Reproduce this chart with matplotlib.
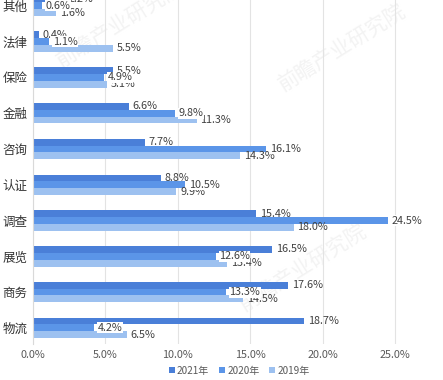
import matplotlib
matplotlib.use("Agg")
import matplotlib.pyplot as plt
from matplotlib.patches import Patch
import numpy as np

plt.rcParams['font.family'] = ['Noto Sans CJK SC', 'DejaVu Sans']

categories = ['物流', '商务', '展览', '调查', '认证', '咨询', '金融', '保险', '法律', '其他']
v2021 = [18.7, 17.6, 16.5, 15.4, 8.8, 7.7, 6.6, 5.5, 0.4, 2.2]
v2020 = [4.2, 13.3, 12.6, 24.5, 10.5, 16.1, 9.8, 4.9, 1.1, 0.6]
v2019 = [6.5, 14.5, 13.4, 18.0, 9.9, 14.3, 11.3, 5.1, 5.5, 1.6]
series_names = ['2021年', '2020年', '2019年']
xticks = [0, 5, 10, 15, 20, 25]

colors = ['#4a7fd8', '#5b95e8', '#9dc1f0']

fig = plt.figure(figsize=(4.43, 3.80), dpi=100)
ax = fig.add_axes([33/443, 1 - 344/380, 397/443, 344/380])

# faint watermarks
for (wx, wy) in [(0.78, 0.86), (0.68, 0.22), (0.22, 0.93)]:
    ax.text(wx, wy, '前瞻产业研究院', transform=ax.transAxes, rotation=32,
            fontsize=15, color='#f3f3f3', ha='center', va='center', zorder=0)

y = np.arange(len(categories))
h = 0.19
series = [v2021, v2020, v2019]
offsets = [h, 0, -h]
for vals, off, c, name in zip(series, offsets, colors, series_names):
    ax.barh(y + off, vals, height=h, color=c, zorder=2, label=name)

fs = 7.8
for i in range(len(categories)):
    ax.text(v2021[i] + 0.25, y[i] + h, f'{v2021[i]:.1f}%', va='center', ha='left',
            fontsize=fs, color='#404040', zorder=4)
    ax.text(v2020[i] + 0.25, y[i], f'{v2020[i]:.1f}%', va='center', ha='left',
            fontsize=fs, color='#404040', zorder=5,
            bbox=dict(facecolor='white', edgecolor='none', pad=0.3))
    ax.text(v2019[i] + 0.25, y[i] - h, f'{v2019[i]:.1f}%', va='center', ha='left',
            fontsize=fs, color='#404040', zorder=4)

ax.set_xlim(0, 27.4)
ax.set_ylim(-0.45, 9.16)
ax.set_xticks(xticks)
ax.set_xticklabels([f'{t:.1f}%' for t in xticks], fontsize=7.8, color='#595959')
ax.set_yticks(y)
ax.set_yticklabels(categories, fontsize=9, color='#333333')
ax.tick_params(axis='both', length=0, pad=4)
ax.grid(axis='x', color='#e3e3e3', linewidth=0.8, zorder=1)
ax.set_axisbelow(True)
for s in ['top', 'right', 'bottom']:
    ax.spines[s].set_visible(False)
ax.spines['left'].set_color('#d9d9d9')
ax.spines['left'].set_linewidth(0.8)

handles = [Patch(facecolor=c, edgecolor='none') for c in colors]
fig.legend(handles, series_names, loc='lower center', bbox_to_anchor=(0.54, -0.012),
           ncol=3, frameon=False, fontsize=7.2, handlelength=0.6, handleheight=0.6,
           handletextpad=0.2, columnspacing=1.0, labelcolor='#595959')

fig.savefig('out.png', dpi=100)
